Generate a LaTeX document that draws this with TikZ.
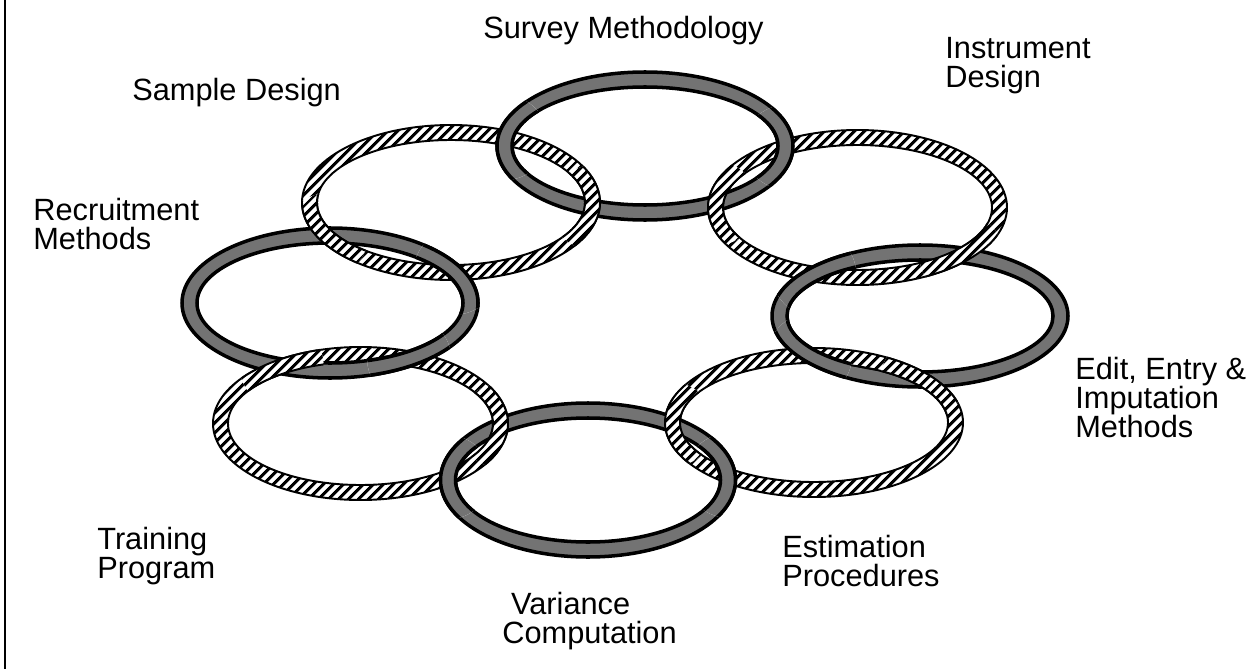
\documentclass[tikz,border=0pt]{standalone}
\usepackage{fontspec}
\setmainfont{Liberation Sans}
\usetikzlibrary{patterns.meta,intersections}

\tikzset{
  dark ring/.style={fill=black!55},
  hatched ring/.style={pattern={Lines[angle=45,distance=4pt,line width=1.8pt]}},
  dark edge/.style={draw=black, line width=2pt},
  hatched edge/.style={draw=black, line width=1.1pt},
  ringlabel/.style={anchor=north west, inner sep=0pt, align=left,
    font=\fontsize{17.5}{16.5}\selectfont},
}

% one link: name, centre x, centre y, outer x radius, outer y radius, look
\newcommand\linkring[6]{%
  \fill[white, even odd rule] (#2,#3) ellipse [x radius=#4, y radius=#5]
    (#2,#3) ellipse [x radius=#4-15, y radius=#5-15];
  \path[#6 ring, even odd rule] (#2,#3) ellipse [x radius=#4, y radius=#5]
    (#2,#3) ellipse [x radius=#4-15, y radius=#5-15];
  \draw[#6 edge] (#2,#3) ellipse [x radius=#4, y radius=#5]
    (#2,#3) ellipse [x radius=#4-15, y radius=#5-15];
  \path[name path global=#1] (#2,#3) ellipse [x radius=#4-7.5, y radius=#5-7.5];
}
\newcommand\surveyring{\linkring{S}{645}{-146}{148}{74}{dark}}
\newcommand\instrumentring{\linkring{I}{857.5}{-207.5}{149.5}{77.5}{hatched}}
\newcommand\editring{\linkring{E}{920}{-316}{148}{71}{dark}}
\newcommand\estimationring{\linkring{P}{814}{-422.5}{149}{74.5}{hatched}}
\newcommand\variancering{\linkring{V}{588}{-480}{147.5}{77}{dark}}
\newcommand\trainingring{\linkring{T}{360.5}{-423.5}{147.5}{76.5}{hatched}}
\newcommand\recruitring{\linkring{R}{330}{-303}{148}{75}{dark}}
\newcommand\sampledesignring{\linkring{D}{451}{-202.5}{149}{77.5}{hatched}}

% redraw a link on top, near one crossing
\newcommand\overat[2]{\begin{scope}\clip (#1) circle (42); #2\end{scope}}

\begin{document}
\begin{tikzpicture}[x=0.02cm, y=0.02cm]
    \useasboundingbox (0,0) rectangle (1254,-669);
    \draw[line width=1.2pt] (5,0) -- (5,-669);

    % the eight links
    \surveyring \instrumentring \editring \estimationring
    \variancering \trainingring \recruitring \sampledesignring

    % crossings of neighbouring links
    \path[name intersections={of=S and D, sort by=S, by={sd1,sd2}}];
    \path[name intersections={of=I and S, sort by=I, by={is1,is2}}];
    \path[name intersections={of=E and I, sort by=E, by={ie1,ie2}}];
    \path[name intersections={of=E and P, sort by=E, by={ep1,ep2}}];
    \path[name intersections={of=P and V, sort by=P, by={pv1,pv2}}];
    \path[name intersections={of=V and T, sort by=V, by={vt1,vt2}}];
    \path[name intersections={of=T and R, sort by=T, by={tr1,tr2}}];
    \path[name intersections={of=R and D, sort by=R, by={rd1,rd2}}];

    % which link lies on top
    \overat{sd1}{\surveyring}     \overat{sd2}{\sampledesignring}
    \overat{is1}{\surveyring}     \overat{is2}{\instrumentring}
    \overat{ie1}{\instrumentring} \overat{ie2}{\editring}
    \overat{ep1}{\editring}       \overat{ep2}{\estimationring}
    \overat{pv1}{\estimationring} \overat{pv2}{\variancering}
    \overat{vt1}{\trainingring}   \overat{vt2}{\variancering}
    \overat{tr1}{\recruitring}    \overat{tr2}{\trainingring}
    \overat{rd1}{\recruitring}    \overat{rd2}{\sampledesignring}

    % labels
    \node[ringlabel] (survey) at (483,-16) {Survey Methodology};
    \node[ringlabel] (instrument) at (945,-37) {Instrument\\Design};
    \node[ringlabel] (sample) at (132,-78) {Sample Design};
    \node[ringlabel] (recruit) at (33,-198) {Recruitment\\Methods};
    \node[ringlabel] (edit) at (1075,-357) {Edit, Entry \&\\Imputation\\Methods};
    \node[ringlabel] (training) at (97,-527) {Training\\Program};
    \node[ringlabel] (estimation) at (782,-535) {Estimation\\Procedures};
    \node[ringlabel] (variance) at (502,-592) {\hspace*{5pt}Variance\\Computation};
\end{tikzpicture}
\end{document}
